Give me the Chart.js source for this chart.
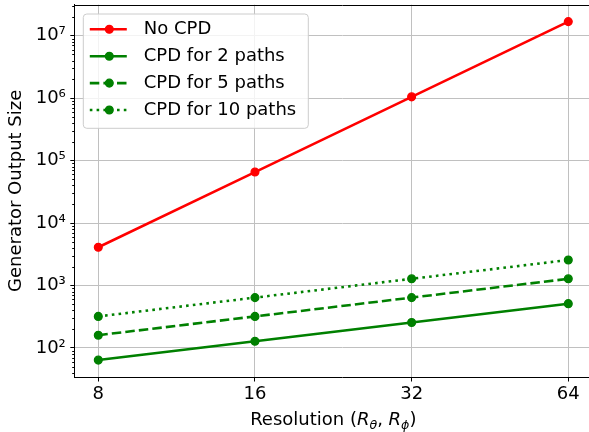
<!DOCTYPE html>
<html>
<head>
<meta charset="utf-8">
<script src="https://cdn.jsdelivr.net/npm/chart.js@4"></script>
<style>
  html, body { margin: 0; padding: 0; background: #fff; overflow: hidden; }
  #wrap { width: 589px; height: 432px; overflow: hidden; }
</style>
</head>
<body>
<div id="wrap"><canvas id="grafico" width="610" height="432"></canvas></div>
<script>
const resolucoes = [8, 16, 32, 64];
const semCpd = [4096, 65536, 1048576, 16777216];
const cpd2 = [64, 128, 256, 512];
const cpd5 = [160, 320, 640, 1280];
const cpd10 = [320, 640, 1280, 2560];
const legendas = ['No CPD', 'CPD for 2 paths', 'CPD for 5 paths', 'CPD for 10 paths'];
const xTicks = [8, 16, 32, 64];

const FONTE = 'DejaVu Sans';
Chart.defaults.font.family = FONTE;
Chart.defaults.font.size = 18;
Chart.defaults.color = '#000';

const SUP = '⁰¹²³⁴⁵⁶⁷⁸⁹';
const ehPot10 = v => Math.abs(Math.log10(v) - Math.round(Math.log10(v))) < 1e-9;
const sup = n => String(n).split('').map(d => SUP[+d]).join('');

function serie(label, valores, cor, dash) {
    return {
        label,
        data: resolucoes.map((x, i) => ({ x, y: valores[i] })),
        borderColor: cor, backgroundColor: cor,
        borderWidth: 2.56, borderDash: dash,
        pointRadius: 3.9, pointHoverRadius: 3.9, pointBorderWidth: 1.3,
        tension: 0
    };
}

const datasets = [
    serie(legendas[0], semCpd, '#ff0000', []),
    serie(legendas[1], cpd2, '#008000', []),
    serie(legendas[2], cpd5, '#008000', [9.5, 4.1]),
    serie(legendas[3], cpd10, '#008000', [2.6, 4.2])
];

// moldura de cima + ticks menores do eixo y
const moldura = {
    id: 'moldura',
    afterDraw(chart) {
        const { ctx, chartArea: ca } = chart;
        const y = chart.scales.y;
        ctx.save();
        ctx.strokeStyle = '#000';
        ctx.lineWidth = 1;
        ctx.beginPath();
        ctx.moveTo(ca.left, Math.round(ca.top) + 0.5);
        ctx.lineTo(ca.right, Math.round(ca.top) + 0.5);
        y.ticks.forEach(t => {
            if (ehPot10(t.value)) return;
            const py = Math.round(y.getPixelForValue(t.value)) + 0.5;
            ctx.moveTo(ca.left - 2.6, py);
            ctx.lineTo(ca.left, py);
        });
        ctx.stroke();
        ctx.restore();
    }
};

// legenda dentro do gráfico
const legendaPlugin = {
    id: 'legendaPlugin',
    afterDraw(chart) {
        const { ctx, chartArea: ca } = chart;
        const x0 = ca.left + 8.5, y0 = ca.top + 9.3, w = 225, h = 114.3, r = 3.5;
        ctx.save();
        ctx.beginPath();
        ctx.roundRect(x0, y0, w, h, r);
        ctx.fillStyle = 'rgba(255,255,255,0.8)';
        ctx.fill();
        ctx.strokeStyle = '#cccccc';
        ctx.lineWidth = 1;
        ctx.stroke();
        datasets.forEach((ds, i) => {
            const ly = y0 + 15.3 + i * 26.9;
            ctx.beginPath();
            ctx.setLineDash(ds.borderDash);
            ctx.strokeStyle = ds.borderColor;
            ctx.lineWidth = ds.borderWidth;
            ctx.moveTo(x0 + 6.5, ly);
            ctx.lineTo(x0 + 43.5, ly);
            ctx.stroke();
            ctx.setLineDash([]);
            ctx.beginPath();
            ctx.arc(x0 + 26, ly, 3.9, 0, Math.PI * 2);
            ctx.fillStyle = ds.borderColor;
            ctx.fill();
            ctx.lineWidth = 1.3;
            ctx.stroke();
            ctx.fillStyle = '#000';
            ctx.font = `18px ${FONTE}`;
            ctx.textBaseline = 'middle';
            ctx.textAlign = 'left';
            ctx.fillText(ds.label, x0 + 60.5, ly);
        });
        ctx.restore();
    }
};

// título do eixo x com R itálico e subscritos
const tituloX = {
    id: 'tituloX',
    afterDraw(chart) {
        const { ctx } = chart;
        const cx = chart.scales.x.getPixelForValue(Math.pow(2, 4.5));
        const base = 425;
        const partes = [
            { t: 'Resolution (', f: `18px ${FONTE}`, dy: 0 },
            { t: 'R', f: `italic 18px ${FONTE}`, dy: 0 },
            { t: 'θ', f: `italic 12.6px ${FONTE}`, dy: 3.5 },
            { t: ', ', f: `18px ${FONTE}`, dy: 0 },
            { t: 'R', f: `italic 18px ${FONTE}`, dy: 0 },
            { t: 'ϕ', f: `italic 12.6px ${FONTE}`, dy: 3.5 },
            { t: ')', f: `18px ${FONTE}`, dy: 0 }
        ];
        ctx.save();
        ctx.fillStyle = '#000';
        ctx.textBaseline = 'alphabetic';
        ctx.textAlign = 'left';
        let total = 0;
        partes.forEach(p => { ctx.font = p.f; p.w = ctx.measureText(p.t).width; total += p.w; });
        let x = cx - total / 2;
        partes.forEach(p => { ctx.font = p.f; ctx.fillText(p.t, x, base + p.dy); x += p.w; });
        ctx.restore();
    }
};

const ctx = document.getElementById('grafico').getContext('2d');
const grafico = new Chart(ctx, {
    type: 'line',
    data: { datasets },
    options: {
        responsive: false, animation: false, devicePixelRatio: 1,
        layout: { autoPadding: false, padding: { top: 4.7, left: 0, right: 0, bottom: 0 } },
        plugins: { legend: { display: false }, tooltip: { enabled: false } },
        scales: {
            x: {
                type: 'logarithmic', min: 7.21, max: 76.97,
                afterFit: s => { s.height = 55; s.paddingLeft = 0; s.paddingRight = 0; },
                afterBuildTicks: s => { s.ticks = xTicks.map(v => ({ value: v })); },
                ticks: { autoSkip: false, maxRotation: 0, padding: 2, callback: v => String(v) },
                grid: { color: c => xTicks.includes(c.tick.value) ? '#c0c0c0' : 'rgba(0,0,0,0)', lineWidth: 1, tickColor: '#000', tickLength: 4.5, tickWidth: 1 },
                border: { color: '#000', width: 1 }
            },
            y: {
                type: 'logarithmic', min: 34.3, max: 3.13e7,
                afterFit: s => { s.width = 74.8; s.paddingTop = 0; s.paddingBottom = 0; },
                afterBuildTicks: s => {
                    const t = [];
                    for (let e = 1; e <= 7; e++) {
                        for (let k = 1; k <= 9; k++) {
                            const v = k * Math.pow(10, e);
                            if (v >= s.min && v <= s.max) t.push({ value: v });
                        }
                    }
                    s.ticks = t;
                },
                ticks: {
                    autoSkip: false, padding: 4.5,
                    callback: v => ehPot10(v) ? '10' + sup(Math.round(Math.log10(v))) : ''
                },
                grid: {
                    color: c => ehPot10(c.tick.value) ? '#c0c0c0' : 'rgba(0,0,0,0)',
                    tickColor: c => ehPot10(c.tick.value) ? '#000' : 'rgba(0,0,0,0)',
                    lineWidth: 1, tickLength: 4.5, tickWidth: 1
                },
                border: { color: '#000', width: 1 },
                title: { display: true, text: 'Generator Output Size', padding: { top: 6, bottom: 0 } }
            }
        }
    },
    plugins: [moldura, legendaPlugin, tituloX]
});
</script>
</body>
</html>
